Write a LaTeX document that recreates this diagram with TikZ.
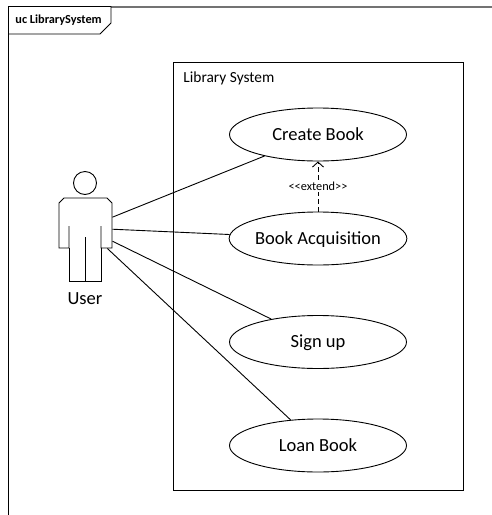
\documentclass[tikz,border=0pt]{standalone}
\usepackage{fontspec}
\setmainfont{Carlito}
\usetikzlibrary{shapes.geometric,arrows.meta}

\tikzset{
  usecase/.style={draw,ellipse,fill=white,minimum width=177pt,minimum height=53pt,inner sep=0pt,text height=13pt,text depth=2pt,font=\fontsize{18.5}{20}\selectfont},
  assoc/.style={draw,line width=0.9pt},
  extendline/.style={draw,dash pattern=on 5pt off 3pt,line width=0.9pt,-{Straight Barb[length=5pt,width=11pt]}},
  extendlabel/.style={fill=white,inner sep=1pt,font=\fontsize{12.3}{14}\selectfont},
}

\begin{document}
\begin{tikzpicture}[x=1pt,y=-1pt,line width=0.9pt]
        \useasboundingbox (0,0) rectangle (492,515) ;
        % frame
        \draw[color=black!55,line width=2pt] (111,6.5) -- (492,6.5) ;
        \draw (8.5,515) -- (8.5,6.5) -- (111,6.5) -- (111,23) -- (100,34) -- (8.5,34) ;
        \node[anchor=west,inner sep=0pt,font=\bfseries\fontsize{12.3}{14}\selectfont] (framelabel) at (15,20) {uc LibrarySystem} ;
        % system
        \draw (173,62) rectangle (463,490) ;
        \node[anchor=west,inner sep=0pt,font=\fontsize{15.4}{17}\selectfont] (systemlabel) at (183,78) {Library System} ;
        % actor
        \draw (85,183) circle (11.5) ;
        \draw (69,226) -- (69,248) -- (59,248) -- (59,203) -- (64,198) -- (107,198) -- (112,203) -- (112,248) -- (101,248) -- (101,226) ;
        \draw (69,248) -- (69,281) -- (101,281) -- (101,248) ;
        \draw (85,237) -- (85,281) ;
        \node[minimum width=53pt,minimum height=40pt,inner sep=0pt] (user) at (85.5,228) {} ;
        \node[font=\fontsize{18.5}{20}\selectfont,inner sep=0pt] (userlabel) at (85,298.5) {User} ;
        % use cases
        \node[usecase] (createbook) at (318,134.5) {Create Book} ;
        \node[usecase] (bookacq) at (318,238.5) {Book Acquisition} ;
        \node[usecase] (signup) at (318,342) {Sign up} ;
        \node[usecase] (loanbook) at (318,445.5) {Loan Book} ;
        % connectors
        \draw[assoc] (user) -- (createbook) ;
        \draw[assoc] (user) -- (bookacq) ;
        \draw[assoc] (user) -- (signup) ;
        \draw[assoc] (user) -- (loanbook) ;
        \draw[extendline] (bookacq) -- node[extendlabel] {<{}<extend>{}>} (createbook) ;
      \end{tikzpicture}
\end{document}
